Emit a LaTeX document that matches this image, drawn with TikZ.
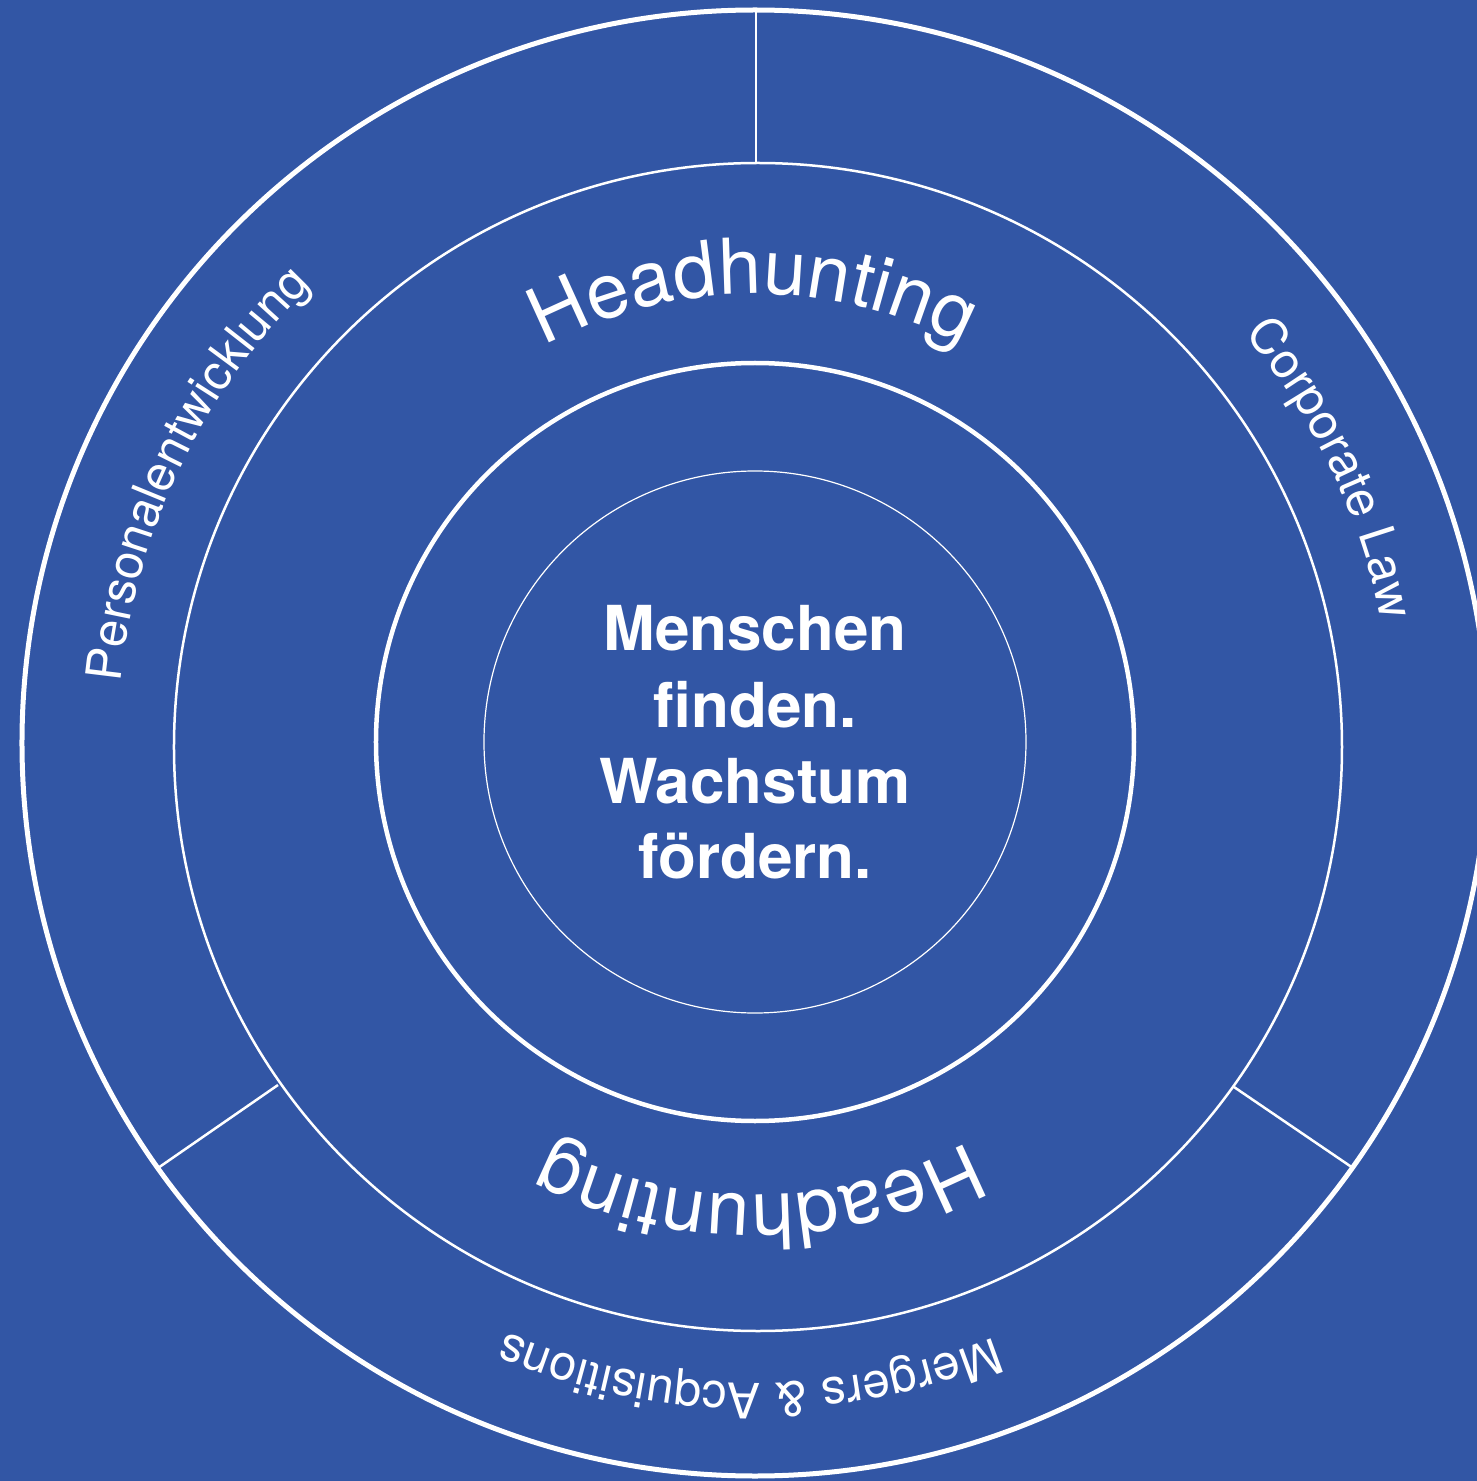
\documentclass[tikz,border=0pt]{standalone}
\usepackage{fontspec}
\setmainfont{TeX Gyre Heros}
\usetikzlibrary{decorations.text}
\definecolor{bg}{RGB}{50,86,165}
\begin{document}
\begin{tikzpicture}[x=1pt,y=1pt,
  ringline/.style={draw=white},
  divider/.style={draw=white, line width=2.5pt},
  arclabel/.style={decorate, decoration={text along path, text align=center, text color=white, text={#1}}},
  mottoline/.style={text=white, font=\fontsize{62}{62}\selectfont\bfseries, inner sep=0pt, anchor=base}]
\useasboundingbox (-755,-738) rectangle (722,743);
\fill[bg] (-755,-738) rectangle (722,743);
% rings
\draw[ringline, line width=5pt] (0,0) circle[radius=733];
\draw[ringline, line width=2.5pt] (3,-4) circle[radius=584];
\draw[ringline, line width=4.5pt] (0,1) circle[radius=379];
\draw[ringline, line width=1.2pt] (0,1) circle[radius=271];
% dividers
\coordinate (topout) at (1,731);
\coordinate (topin) at (1,580);
\coordinate (llout) at (-597,-425);
\coordinate (llin) at (-477,-342);
\coordinate (lrout) at (598,-425);
\coordinate (lrin) at (479,-344);
\draw[divider] (topout) -- (topin);
\draw[divider] (llout) -- (llin);
\draw[divider] (lrout) -- (lrin);
% curved labels
\path[arclabel={|\fontsize{77}{77}\selectfont|Headhunting}] (150.2:449) arc[start angle=150.2, end angle=30.2, radius=449];
\path[arclabel={|\fontsize{77}{77}\selectfont|Headhunting}] (-29.5:452) arc[start angle=-29.5, end angle=-149.5, radius=452];
\path[arclabel={|\fontsize{49}{49}\selectfont|Corporate Law}] (85.5:638) arc[start angle=85.5, end angle=-34.5, radius=638];
\path[arclabel={|\fontsize{49}{49}\selectfont|Personalentwicklung}] (214.3:637) arc[start angle=214.3, end angle=94.3, radius=637];
\path[arclabel={|\fontsize{49}{49}\selectfont|Mergers {\&} Acquisitions}] (-30.5:640) arc[start angle=-30.5, end angle=-150.5, radius=640];
% centre text
\node[mottoline] (m1) at (0,93) {Menschen};
\node[mottoline] (m2) at (0,16) {finden.};
\node[mottoline] (m3) at (0,-60) {Wachstum};
\node[mottoline] (m4) at (0,-135) {fördern.};
\end{tikzpicture}
\end{document}
